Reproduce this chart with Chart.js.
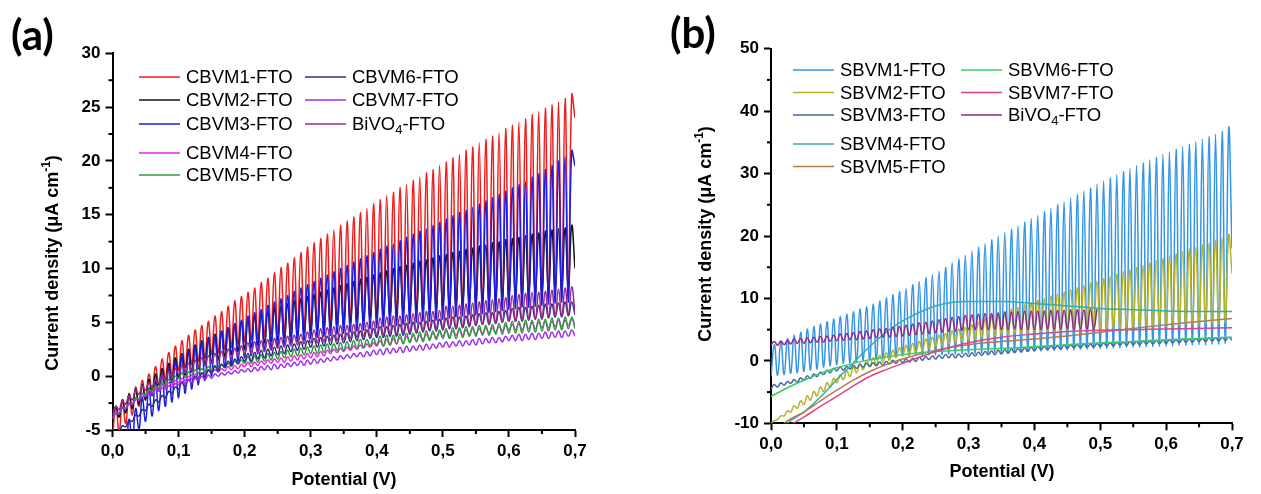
<!DOCTYPE html>
<html>
<head>
<meta charset="utf-8">
<script src="https://cdn.jsdelivr.net/npm/chart.js@4.4.0/dist/chart.umd.min.js"></script>
<style>
  html, body { margin: 0; padding: 0; background: #fff; }
  #wrap { position: relative; width: 1261px; height: 494px; overflow: hidden; }
  canvas { position: absolute; top: 0; }
  #chartA { left: 0; }
  #chartB { left: 640px; }
</style>
</head>
<body>
<div id="wrap">
  <canvas id="chartA" width="640" height="494"></canvas>
  <canvas id="chartB" width="621" height="494"></canvas>
</div>
<script>
// chopped-light scans: dark reading every 0.01 V, light peak half a step later
const scanStep = 0.01

// ---- panel (a) ----
const cbvm1Dark = [-5.8,-5.2,-4.4,-3.6,-2.8,-2.0,-1.4,-0.8,-0.3,0.1,
  0.5,0.8,1.1,1.4,1.7,2.0,2.2,2.5,2.7,3.0, 3.2,3.4,3.5,3.7,3.9,4.0,4.1,4.3,4.4,4.5,
  4.6,4.7,4.8,4.9,4.9,5.0,5.1,5.2,5.3,5.3, 5.4,5.5,5.5,5.6,5.7,5.7,5.8,5.8,5.9,6.0,
  6.0,6.1,6.2,6.2,6.3,6.4,6.4,6.5,6.6,6.6, 6.7,6.8,6.8,6.9,7.0,7.0,7.1,7.2,7.2,7.3, 24.0]
const cbvm1Light = [-2.8,-2.2,-1.6,-1.0,-0.4,0.2,0.9,1.6,2.2,2.8,
  3.3,3.8,4.3,4.7,5.1,5.6,6.0,6.5,7.0,7.4, 7.8,8.2,8.7,9.1,9.6,10.1,10.5,11.0,11.5,12.0,
  12.4,12.8,13.2,13.6,14.0,14.4,14.8,15.2,15.6,16.0, 16.4,16.8,17.1,17.5,17.8,18.2,18.5,18.9,19.2,19.6,
  19.9,20.3,20.6,21.0,21.3,21.7,22.0,22.3,22.6,23.0, 23.3,23.6,23.9,24.3,24.6,24.9,25.2,25.5,25.8,26.1]

const cbvm2Dark = [-4.2,-3.8,-3.4,-3.0,-2.6,-2.2,-1.8,-1.4,-1.0,-0.6,
  -0.2,0.1,0.4,0.7,1.0,1.2,1.5,1.8,2.0,2.3, 2.5,2.7,2.9,3.1,3.2,3.4,3.6,3.7,3.9,4.0,
  4.2,4.3,4.4,4.6,4.7,4.8,5.0,5.1,5.2,5.4, 5.5,5.6,5.7,5.8,5.9,6.0,6.1,6.2,6.3,6.4,
  6.5,6.6,6.7,6.8,6.9,7.0,7.1,7.1,7.2,7.3, 7.4,7.5,7.6,7.6,7.7,7.8,7.9,8.0,8.0,8.1, 10.0]
const cbvm2Light = [-2.8,-2.2,-1.7,-1.2,-0.8,-0.3,0.2,0.7,1.2,1.7,
  2.1,2.5,2.9,3.3,3.6,3.9,4.2,4.5,4.8,5.1, 5.3,5.6,5.8,6.0,6.3,6.5,6.7,7.0,7.2,7.4,
  7.6,7.8,8.0,8.2,8.4,8.6,8.8,9.0,9.2,9.4, 9.6,9.8,10.0,10.2,10.3,10.5,10.7,10.8,11.0,11.2,
  11.3,11.5,11.6,11.8,11.9,12.1,12.2,12.4,12.5,12.7, 12.8,12.9,13.1,13.2,13.3,13.5,13.6,13.7,13.8,14.0]

const cbvm3Dark = [-9.0,-8.0,-7.0,-6.0,-5.0,-4.2,-3.7,-3.2,-2.8,-2.4,
  -2.0,-1.6,-1.2,-0.8,-0.4,0.0,0.4,0.8,1.1,1.4, 1.7,1.9,2.1,2.3,2.5,2.7,2.9,3.0,3.2,3.3,
  3.5,3.6,3.7,3.8,3.9,4.0,4.1,4.2,4.3,4.4, 4.5,4.6,4.7,4.7,4.8,4.9,5.0,5.1,5.1,5.2,
  5.3,5.4,5.5,5.6,5.7,5.7,5.8,5.9,6.0,6.1, 6.2,6.3,6.4,6.4,6.5,6.6,6.7,6.8,6.9,6.9, 19.5]
const cbvm3Light = [-7.0,-5.5,-4.0,-3.0,-2.0,-1.1,-0.4,0.3,0.9,1.4,
  1.9,2.3,2.7,3.1,3.5,3.8,4.2,4.5,4.9,5.2, 5.6,5.9,6.2,6.6,6.9,7.2,7.5,7.9,8.2,8.5,
  8.8,9.1,9.4,9.7,10.0,10.3,10.6,10.9,11.2,11.5, 11.8,12.1,12.3,12.6,12.9,13.2,13.5,13.7,14.0,14.3,
  14.6,14.9,15.2,15.4,15.7,16.0,16.3,16.6,16.9,17.2, 17.5,17.8,18.1,18.5,18.8,19.2,19.6,20.0,20.4,20.9]

const cbvm4Dark = [-3.8,-3.4,-3.0,-2.6,-2.2,-1.8,-1.5,-1.3,-1.0,-0.8,-0.6,
  -0.4,-0.2,-0.1,0.1,0.3,0.4,0.5,0.6,0.7,0.9, 0.9,1.0,1.1,1.2,1.3,1.3,1.4,1.5,1.6,1.7,
  1.8,1.9,2.1,2.2,2.3,2.4,2.5,2.6,2.7,2.8, 2.8,2.9,3.0,3.1,3.2,3.3,3.4,3.5,3.6,3.7,
  3.7,3.8,3.8,3.9,3.9,4.0,4.0,4.1,4.2,4.3, 4.3,4.3,4.4,4.4,4.5,4.5,4.6,4.6,4.7,4.7]
const cbvm4Light = [-3.3,-2.9,-2.5,-2.1,-1.7,-1.3,-1.1,-0.8,-0.6,-0.4,
  -0.2,0.0,0.2,0.3,0.5,0.6,0.7,0.9,1.0,1.1, 1.3,1.3,1.4,1.5,1.6,1.7,1.8,1.9,2.0,2.1,
  2.2,2.3,2.4,2.5,2.6,2.7,2.8,2.9,3.0,3.1, 3.3,3.4,3.5,3.6,3.7,3.8,3.8,3.9,4.0,4.1,
  4.2,4.2,4.3,4.3,4.4,4.4,4.5,4.5,4.6,4.7, 4.8,4.9,4.9,5.0,5.0,5.1,5.1,5.2,5.2,5.3]

const cbvm5Dark = [-4.0,-3.5,-3.0,-2.6,-2.1,-1.7,-1.4,-1.1,-0.8,-0.5,-0.2,
  -0.1,0.1,0.3,0.4,0.6,0.7,0.8,0.9,1.1,1.2, 1.2,1.3,1.4,1.5,1.6,1.7,1.8,1.9,2.0,2.1,
  2.1,2.2,2.3,2.4,2.4,2.5,2.6,2.7,2.8,2.9, 2.8,2.9,3.0,3.0,3.1,3.2,3.2,3.3,3.4,3.5,
  3.5,3.5,3.6,3.7,3.7,3.8,3.8,3.9,3.9,4.0, 4.0,4.0,4.1,4.1,4.2,4.2,4.3,4.3,4.4,4.4]
const cbvm5Light = [-3.4,-2.9,-2.5,-2.0,-1.6,-1.2,-0.9,-0.6,-0.3,0.0,
  0.3,0.4,0.6,0.7,0.9,1.0,1.1,1.2,1.4,1.5, 1.8,1.9,2.0,2.1,2.2,2.3,2.4,2.5,2.6,2.7,
  2.8,2.9,3.0,3.0,3.1,3.2,3.3,3.4,3.4,3.5, 3.7,3.8,3.8,3.9,4.0,4.0,4.1,4.2,4.2,4.3,
  4.4,4.5,4.5,4.6,4.6,4.7,4.7,4.8,4.9,5.0, 5.1,5.1,5.2,5.2,5.3,5.3,5.4,5.4,5.5,5.5]

const cbvm6Dark = [-5.7,-5.2,-4.7,-4.2,-3.7,-3.2,-2.8,-2.4,-2.0,-1.6,-1.2,
  -1.0,-0.7,-0.4,-0.1,0.3,0.5,0.8,1.0,1.2,1.4, 1.4,1.6,1.7,1.9,2.0,2.1,2.3,2.4,2.5,2.7,
  2.7,2.8,2.9,3.0,3.1,3.2,3.3,3.4,3.5,3.6, 3.6,3.7,3.7,3.8,3.9,4.0,4.1,4.2,4.2,4.3,
  4.4,4.4,4.5,4.6,4.7,4.8,4.8,4.9,5.0,5.1, 5.1,5.1,5.2,5.3,5.3,5.4,5.5,5.5,5.6,5.7]
const cbvm6Light = [-5.1,-4.6,-4.1,-3.6,-3.1,-2.6,-2.2,-1.8,-1.4,-1.0,
  -0.6,-0.3,0.0,0.3,0.6,0.9,1.1,1.4,1.6,1.8, 2.1,2.2,2.4,2.5,2.7,2.8,2.9,3.0,3.2,3.3,
  3.5,3.6,3.7,3.8,3.9,4.0,4.1,4.2,4.3,4.4, 4.6,4.6,4.7,4.8,4.9,5.0,5.0,5.1,5.2,5.3,
  5.4,5.5,5.5,5.6,5.7,5.8,5.9,5.9,6.0,6.1, 6.3,6.4,6.4,6.5,6.6,6.7,6.7,6.8,6.9,6.9]

const cbvm7Dark = [-3.9,-3.4,-3.0,-2.6,-2.2,-1.9,-1.7,-1.4,-1.2,-1.0,-0.8,
  -0.7,-0.6,-0.4,-0.3,-0.2,0.0,0.1,0.2,0.3,0.4, 0.4,0.5,0.6,0.6,0.7,0.8,0.9,1.0,1.0,1.1,
  1.2,1.3,1.4,1.5,1.6,1.7,1.8,1.8,1.9,2.0, 2.0,2.1,2.2,2.2,2.3,2.4,2.4,2.5,2.6,2.7,
  2.7,2.8,2.8,2.9,2.9,3.0,3.1,3.1,3.2,3.3, 3.3,3.3,3.4,3.4,3.5,3.5,3.6,3.6,3.7,3.7]
const cbvm7Light = [-3.5,-3.0,-2.6,-2.2,-1.9,-1.6,-1.3,-1.1,-0.9,-0.7,
  -0.5,-0.3,-0.2,0.0,0.1,0.2,0.3,0.4,0.5,0.6, 0.7,0.8,0.9,1.0,1.1,1.1,1.2,1.3,1.4,1.5,
  1.6,1.6,1.7,1.8,1.9,2.0,2.1,2.2,2.3,2.4, 2.5,2.6,2.6,2.7,2.8,2.8,2.9,3.0,3.0,3.1,
  3.2,3.2,3.3,3.3,3.4,3.5,3.5,3.6,3.6,3.7, 3.8,3.9,3.9,4.0,4.0,4.1,4.1,4.2,4.2,4.3]

const bivo4aDark = [-3.6,-3.1,-2.6,-2.2,-1.7,-1.3,-1.0,-0.7,-0.4,-0.1,0.2,
  0.3,0.5,0.8,1.0,1.2,1.4,1.6,1.7,1.9,2.1, 2.1,2.2,2.3,2.4,2.6,2.7,2.8,2.9,3.0,3.1,
  3.1,3.2,3.3,3.3,3.4,3.5,3.6,3.7,3.7,3.8, 3.8,3.9,3.9,4.0,4.1,4.1,4.2,4.3,4.4,4.4,
  4.5,4.5,4.6,4.7,4.7,4.8,4.9,4.9,5.0,5.1, 5.1,5.2,5.3,5.3,5.4,5.5,5.6,5.6,5.7,5.8]
const bivo4aLight = [-2.8,-2.3,-1.8,-1.3,-0.9,-0.6,-0.3,0.1,0.4,0.7,
  1.0,1.2,1.5,1.7,1.9,2.1,2.3,2.5,2.6,2.8, 3.1,3.2,3.3,3.4,3.5,3.6,3.7,3.8,3.9,4.1,
  4.3,4.4,4.5,4.6,4.7,4.7,4.8,4.9,5.0,5.1, 5.4,5.5,5.6,5.6,5.7,5.8,5.9,6.0,6.0,6.1,
  6.5,6.5,6.6,6.7,6.8,6.9,7.0,7.1,7.2,7.3, 7.5,7.6,7.7,7.8,7.8,7.9,8.0,8.1,8.2,8.3]

// ---- panel (b) ----
const sbvm1Dark = [-2.5,-2.3,-2.2,-2.0,-1.9,-1.7,-1.5,-1.3,-1.0,-0.8,
  -0.6,-0.4,-0.3,-0.2,0.0,0.1,0.2,0.4,0.5,0.7, 0.8,0.8,0.9,0.9,1.0,1.0,1.0,1.1,1.1,1.2,
  1.2,1.2,1.3,1.3,1.4,1.4,1.4,1.5,1.5,1.6, 1.6,1.6,1.7,1.7,1.8,1.8,1.8,1.9,1.9,2.0,
  2.0,2.0,2.1,2.1,2.2,2.2,2.2,2.3,2.3,2.4, 2.4,2.4,2.5,2.5,2.6,2.6,2.6,2.7,2.7,2.8, 18.0]
const sbvm1Light = [2.6,3.1,3.6,4.1,4.6,5.1,5.5,5.9,6.3,6.7,
  7.1,7.5,7.9,8.3,8.7,9.1,9.6,10.1,10.6,11.1, 11.6,12.2,12.7,13.3,13.8,14.4,15.0,15.7,16.3,16.9,
  17.6,18.2,18.8,19.4,20.0,20.6,21.1,21.7,22.2,22.8, 23.3,23.9,24.4,25.0,25.5,26.1,26.6,27.2,27.7,28.3,
  28.8,29.3,29.8,30.3,30.8,31.3,31.7,32.2,32.6,33.1, 33.5,33.9,34.3,34.7,35.1,35.5,35.9,36.3,36.7,37.2]

const sbvm2Dark = [-10.0,-9.4,-8.8,-8.2,-7.6,-7.0,-6.3,-5.6,-4.9,-4.2,-3.5,
  -3.0,-2.5,-1.9,-1.4,-0.9,-0.6,-0.2,0.1,0.5,0.8, 1.1,1.4,1.7,2.0,2.3,2.5,2.7,3.0,3.2,3.4,
  3.6,3.7,3.9,4.0,4.2,4.3,4.4,4.4,4.5,4.6, 4.7,4.7,4.8,4.8,4.9,4.9,5.0,5.0,5.1,5.1,
  5.2,5.2,5.3,5.3,5.4,5.5,5.5,5.6,5.6,5.7, 5.7,5.8,5.8,5.9,5.9,6.0,6.0,6.1,6.1,14.0]
const sbvm2Light = [-9.6,-8.8,-8.0,-7.2,-6.4,-5.6,-4.9,-4.2,-3.5,-2.8,
  -2.2,-1.6,-1.0,-0.4,0.1,0.5,0.9,1.3,1.7,2.1, 2.5,2.8,3.1,3.5,3.8,4.1,4.4,4.8,5.1,5.4,
  5.8,6.2,6.7,7.1,7.5,7.9,8.3,8.6,9.0,9.3, 9.7,10.0,10.4,10.7,11.0,11.4,11.7,12.1,12.5,12.8,
  13.2,13.5,13.9,14.3,14.6,15.0,15.3,15.7,16.1,16.4, 16.8,17.1,17.5,17.9,18.2,18.6,18.9,19.3,19.7,20.1]

const sbvm3Dark = [-4.5,-4.2,-3.9,-3.6,-3.4,-3.1,-2.8,-2.5,-2.2,-1.9,-1.6,
  -1.5,-1.3,-1.2,-1.0,-0.9,-0.8,-0.7,-0.5,-0.4,-0.3, -0.2,-0.1,0.1,0.2,0.3,0.4,0.5,0.5,0.6,0.7,
  0.8,0.9,1.0,1.0,1.1,1.2,1.3,1.4,1.5,1.6, 1.8,1.8,1.9,1.9,2.0,2.1,2.1,2.2,2.2,2.3,
  2.4,2.4,2.5,2.5,2.6,2.6,2.7,2.7,2.8,2.8, 2.9,2.9,3.0,3.0,3.1,3.1,3.2,3.2,3.3,3.3]
const sbvm3Light = [-3.8,-3.5,-3.3,-3.0,-2.7,-2.4,-2.1,-1.8,-1.5,-1.2,
  -1.0,-0.9,-0.7,-0.6,-0.4,-0.3,-0.2,-0.1,0.1,0.2, 0.3,0.4,0.6,0.7,0.8,0.9,1.0,1.1,1.1,1.2,
  1.3,1.4,1.5,1.6,1.7,1.8,1.9,2.0,2.1,2.2, 2.3,2.3,2.4,2.4,2.5,2.6,2.6,2.7,2.7,2.8,
  2.9,2.9,3.0,3.0,3.1,3.1,3.2,3.2,3.3,3.3, 3.4,3.4,3.5,3.5,3.6,3.6,3.7,3.7,3.8,3.8]

const bivo4bDark = [2.5,2.5,2.6,2.7,2.8,2.8,2.9,3.0,3.0,3.1,3.2,
  3.3,3.4,3.4,3.5,3.6,3.7,3.8,3.8,3.9,4.0, 4.1,4.2,4.3,4.4,4.5,4.6,4.7,4.8,4.9,5.0,
  5.0,5.0,5.0,5.1,5.0,5.0,5.1,5.0,5.0,5.0, 5.0,5.1,5.0,5.1,5.1,5.0,5.1,5.1,5.1]
const bivo4bLight = [3.1,3.2,3.3,3.5,3.6,3.7,3.8,3.9,4.0,4.1,
  4.3,4.4,4.5,4.7,4.8,5.0,5.1,5.2,5.4,5.5, 5.7,5.9,6.1,6.2,6.4,6.6,6.8,7.0,7.1,7.3,
  7.4,7.5,7.6,7.6,7.7,7.8,7.8,7.9,8.0,8.0, 8.0,8.0,8.1,8.1,8.1,8.2,8.2,8.2,8.3,8.3]

// dark-only (smooth) scans in panel (b)
const smoothPotential = [0, 0.025, 0.05, 0.075, 0.1, 0.125, 0.15, 0.175, 0.2, 0.25, 0.3, 0.35, 0.4, 0.45, 0.5, 0.55, 0.6, 0.65, 0.7]
const sbvm4 = [-13.5,-10.0,-8.2,-5.8,-3.0,-0.3,2.3,4.6,6.4,8.8,9.5,9.5,9.2,8.8,8.4,8.2,8.0,7.9,7.9]
const sbvm5 = [-12.0,-9.6,-8.2,-6.4,-4.7,-3.1,-1.7,-0.6,0.3,1.7,2.6,3.1,3.5,4.0,4.6,5.2,5.8,6.3,6.8]
const sbvm6 = [-5.7,-4.3,-3.1,-2.0,-1.1,-0.4,0.2,0.6,1.0,1.5,1.8,2.0,2.3,2.6,2.9,3.1,3.4,3.6,3.8]
const sbvm7 = [-13.0,-10.6,-9.0,-7.3,-5.7,-4.0,-2.5,-1.4,-0.4,1.5,2.9,3.8,4.3,4.7,4.9,5.0,5.1,5.2,5.3]

const FONT = '"Liberation Sans", Arial, sans-serif'

function chopped(dark, light) {
  const pts = []
  dark.forEach((y, i) => {
    pts.push({ x: i * scanStep, y })
    if (i < light.length) pts.push({ x: i * scanStep + scanStep / 2, y: light[i] })
  })
  return pts
}
const smooth = vals => vals.map((y, i) => ({ x: smoothPotential[i], y }))

// text with sub/superscript characters (₄, ⁻¹)
const SUB = { '₄': '4' }
const SUP = { '⁻': '-', '¹': '1' }
function drawRich(ctx, text, x, y, size, weight, align) {
  const parts = []
  for (const ch of text) {
    const kind = SUB[ch] ? 'sub' : SUP[ch] ? 'sup' : 'n'
    const c = SUB[ch] || SUP[ch] || ch
    const last = parts[parts.length - 1]
    if (last && last.kind === kind) last.t += c
    else parts.push({ kind, t: c })
  }
  const big = `${weight} ${size}px ${FONT}`
  const small = `${weight} ${Math.round(size * 0.68)}px ${FONT}`
  const widths = parts.map(p => { ctx.font = p.kind === 'n' ? big : small; return ctx.measureText(p.t).width })
  const total = widths.reduce((a, b) => a + b, 0)
  let cx = align === 'center' ? x - total / 2 : x
  ctx.textAlign = 'left'
  ctx.textBaseline = 'middle'
  parts.forEach((p, i) => {
    ctx.font = p.kind === 'n' ? big : small
    const dy = p.kind === 'sub' ? size * 0.32 : p.kind === 'sup' ? -size * 0.36 : 0
    ctx.fillText(p.t, cx, y + dy)
    cx += widths[i]
  })
}

const decor = {
  id: 'decor',
  afterDraw(chart, args, opts) {
    const ctx = chart.ctx
    ctx.save()
    ctx.fillStyle = '#000'
    ctx.strokeStyle = '#000'

    // minor ticks between the major ones
    ctx.lineWidth = 2
    for (const id of ['x', 'y']) {
      const s = chart.scales[id]
      const step = opts.minor[id]
      for (let r = Math.ceil(s.min / step); r <= Math.floor(s.max / step); r++) {
        if (r % 2 === 0) continue
        const p = s.getPixelForValue(r * step)
        ctx.beginPath()
        if (id === 'x') { ctx.moveTo(p, s.top); ctx.lineTo(p, s.top + 4) }
        else { ctx.moveTo(s.right - 4, p); ctx.lineTo(s.right, p) }
        ctx.stroke()
      }
    }

    // legend in two columns
    opts.legend.forEach((slot, i) => {
      const ds = chart.data.datasets[i]
      ctx.strokeStyle = ds.borderColor
      ctx.lineWidth = 1.5
      ctx.beginPath()
      ctx.moveTo(slot[0], slot[1])
      ctx.lineTo(slot[0] + 41, slot[1])
      ctx.stroke()
      ctx.fillStyle = '#000'
      drawRich(ctx, ds.label, slot[0] + 47, slot[1] + 1, 18.5, 'normal', 'left')
    })

    // axis titles
    drawRich(ctx, 'Potential (V)', opts.xTitle[0], opts.xTitle[1], 18, 'bold', 'center')
    ctx.save()
    ctx.translate(opts.yTitle[0], opts.yTitle[1])
    ctx.rotate(-Math.PI / 2)
    drawRich(ctx, 'Current density (μA cm⁻¹)', 0, 0, 18, 'bold', 'center')
    ctx.restore()

    // panel letter
    ctx.font = 'bold 42px Lato, "Open Sans", sans-serif'
    ctx.textAlign = 'left'
    ctx.textBaseline = 'alphabetic'
    ctx.fillText(opts.letter, opts.letterPos[0], opts.letterPos[1])
    ctx.restore()
  },
}

function makeChart(id, series, cfg) {
  const datasets = series.map((s, i) => ({
    label: s.label,
    data: s.points,
    borderColor: s.color,
    borderWidth: 1.5,
    pointRadius: 0,
    fill: false,
    tension: s.smooth ? 0 : 0.45,
    cubicInterpolationMode: s.smooth ? 'monotone' : 'default',
    order: series.length - i,
  }))
  const axisGrid = { drawOnChartArea: false, tickLength: 7, tickWidth: 2, tickColor: '#000' }
  const axisBorder = { display: true, color: '#000', width: 2 }
  const tickFont = { family: FONT, size: 17, weight: 'bold' }
  return new Chart(document.getElementById(id), {
    type: 'line',
    data: { datasets },
    plugins: [decor],
    options: {
      responsive: false,
      animation: false,
      devicePixelRatio: 1,
      layout: { padding: cfg.padding },
      plugins: {
        legend: { display: false },
        tooltip: { enabled: false },
        decor: cfg.decor,
      },
      scales: {
        x: {
          type: 'linear', min: 0, max: 0.7,
          ticks: { stepSize: 0.1, font: tickFont, color: '#000', padding: 4, maxRotation: 0, autoSkip: false,
            callback: v => v.toFixed(1).replace('.', ',') },
          grid: axisGrid, border: axisBorder,
          afterFit: s => { s.height = cfg.xHeight },
        },
        y: {
          type: 'linear', min: cfg.yMin, max: cfg.yMax,
          ticks: { stepSize: cfg.yStep, font: tickFont, color: '#000', padding: 5, callback: v => String(v) },
          grid: axisGrid, border: axisBorder,
          afterFit: s => { s.width = cfg.yWidth },
        },
      },
    },
  })
}

makeChart('chartA', [
  { label: 'CBVM1-FTO', color: '#ee1d1d', points: chopped(cbvm1Dark, cbvm1Light) },
  { label: 'CBVM2-FTO', color: '#111111', points: chopped(cbvm2Dark, cbvm2Light) },
  { label: 'CBVM3-FTO', color: '#1d1de6', points: chopped(cbvm3Dark, cbvm3Light) },
  { label: 'CBVM4-FTO', color: '#ee22ee', points: chopped(cbvm4Dark, cbvm4Light) },
  { label: 'CBVM5-FTO', color: '#2f9a3a', points: chopped(cbvm5Dark, cbvm5Light) },
  { label: 'CBVM6-FTO', color: '#2e2e88', points: chopped(cbvm6Dark, cbvm6Light) },
  { label: 'CBVM7-FTO', color: '#9b2cf0', points: chopped(cbvm7Dark, cbvm7Light) },
  { label: 'BiVO₄-FTO', color: '#952d8e', points: chopped(bivo4aDark, bivo4aLight) },
], {
  padding: { left: 0, top: 53.3, right: 65, bottom: 0 },
  yWidth: 112.5, xHeight: 64,
  yMin: -5, yMax: 30, yStep: 5,
  decor: {
    minor: { x: 0.05, y: 2.5 },
    legend: [[139, 77], [139, 100], [139, 124], [139, 153], [139, 175], [305, 77], [305, 100], [305, 124]],
    xTitle: [344, 480], yTitle: [53, 263],
    letter: '(a)', letterPos: [11, 50],
  },
})

makeChart('chartB', [
  { label: 'SBVM1-FTO', color: '#3594e6', points: chopped(sbvm1Dark, sbvm1Light) },
  { label: 'SBVM2-FTO', color: '#b4b428', points: chopped(sbvm2Dark, sbvm2Light) },
  { label: 'SBVM3-FTO', color: '#43699e', points: chopped(sbvm3Dark, sbvm3Light) },
  { label: 'SBVM4-FTO', color: '#34adae', points: smooth(sbvm4), smooth: true },
  { label: 'SBVM5-FTO', color: '#b47c4a', points: smooth(sbvm5), smooth: true },
  { label: 'SBVM6-FTO', color: '#38cc66', points: smooth(sbvm6), smooth: true },
  { label: 'SBVM7-FTO', color: '#e0438c', points: smooth(sbvm7), smooth: true },
  { label: 'BiVO₄-FTO', color: '#8e2a8a', points: chopped(bivo4bDark, bivo4bLight) },
], {
  padding: { left: 0, top: 48.7, right: 29, bottom: 0 },
  yWidth: 131, xHeight: 70.7,
  yMin: -10, yMax: 50, yStep: 10,
  decor: {
    minor: { x: 0.05, y: 5 },
    legend: [[153, 70], [153, 92.5], [153, 115], [153, 144], [153, 166.5], [321, 70], [321, 92.5], [321, 115]],
    xTitle: [362, 472], yTitle: [66, 234],
    letter: '(b)', letterPos: [30, 48],
  },
})
</script>
</body>
</html>
